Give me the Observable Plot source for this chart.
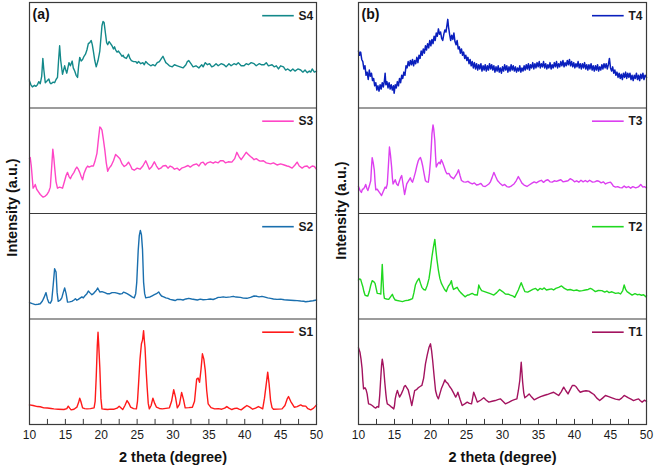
<!DOCTYPE html>
<html><head><meta charset="utf-8">
<script src="https://cdn.jsdelivr.net/npm/d3@7"></script>
<script src="https://cdn.jsdelivr.net/npm/@observablehq/plot@0.6"></script>
<style>
body{margin:0;background:#fff;font-family:"Liberation Sans",Arial,sans-serif}
#wrap{display:flex;width:654px;height:467px;overflow:hidden}
</style></head><body><div id="wrap"></div>
<script>
// Flat lists: 2θ, intensity (0–100 within each stacked sub-panel)
const S4 = [10,25.6,10.2,22,10.4,20,10.7,21.5,10.9,20.5,11.1,22,11.3,25,11.5,23,11.7,30,11.86,47,12.0,36,12.2,24,12.5,26,12.7,27.5,12.85,24,13.0,23,13.3,24.5,13.5,24,13.7,27,13.9,29,14.05,45,14.2,59,14.35,45,14.6,32,14.9,40,15.05,36,15.2,33,15.5,43,15.7,40,15.95,44.5,16.1,38,16.3,35,16.5,31,16.7,29,16.85,40,17.0,48,17.2,44.5,17.4,46,17.6,49,17.8,51,18.0,55,18.2,61,18.4,62,18.6,64,18.75,60,18.9,54,19.1,45,19.3,39,19.55,45,19.8,54,19.95,66,20.1,78,20.25,82,20.4,81,20.6,70,20.75,62,20.9,60,21.1,63,21.3,61,21.5,59,21.7,56,21.85,58,22.0,55,22.2,53,22.4,54,22.7,51,22.9,49,23.05,50,23.2,48,23.5,47,23.8,51,24.0,47,24.2,45,24.5,44,24.8,44,25.0,42.5,25.2,44,25.5,42,25.8,43,26.0,41,26.2,44,26.5,42,26.9,40,27.2,41,27.5,40,27.8,43,28.1,44,28.4,47,28.6,49,28.8,46,29.0,43,29.2,42,29.5,40,29.9,39,30.2,41,30.6,40,31.0,39,31.4,38,31.8,41,32.0,44,32.2,45,32.5,42,32.8,39,33.2,40,33.6,38,34.0,41,34.2,39,34.5,43,34.8,41,35.1,42,35.4,39,35.7,40,36.0,42,36.3,40,36.7,42,37.1,41,37.4,39,37.8,42,38.1,40,38.5,42,38.8,41,39.1,43,39.5,40,39.9,40,40.2,42,40.5,41,40.9,43,41.3,42,41.6,40,42.0,42,42.3,41,42.7,41,43.0,43,43.3,40,43.8,41,44.1,39,44.4,40,44.7,37,45.0,40,45.4,39,45.7,36,46.0,37,46.4,35,46.7,37,47.0,35,47.4,37,47.8,36,48.1,34,48.4,36,48.7,33.5,49.0,35,49.2,34,49.4,37,49.7,34,50,35];
const S3 = [10,52,10.1,53,10.25,45,10.5,24,10.7,26,10.8,27.5,11.0,23,11.2,21,11.5,18,11.9,15.5,12.2,16.5,12.4,17.7,12.7,21,12.9,25,13.1,45,13.25,61,13.4,52,13.5,44,13.7,30,13.9,24,14.2,25,14.6,24,14.9,31,15.1,36,15.3,39,15.5,35,15.7,33,15.9,36,16.2,39,16.4,42,16.6,44,16.8,42,17.0,39,17.2,35,17.4,32,17.6,38,17.9,43,18.1,45,18.3,44,18.6,45,18.9,45,19.1,49,19.4,57,19.6,70,19.8,82,19.95,81,20.1,79,20.3,70,20.5,60,20.7,48,20.9,40,21.1,43,21.4,45.5,21.7,50,22.0,56,22.3,54,22.6,52,22.9,47,23.2,44.5,23.5,46,23.8,48.7,24.1,45,24.3,42,24.6,41,25.0,43,25.4,42,25.8,45,26.2,50,26.4,47,26.7,42,27.0,44,27.4,49,27.7,45,28.0,42,28.3,43,28.6,45,29.0,45.5,29.3,43,29.6,45,29.9,44,30.2,42,30.6,43,30.9,41,31.2,43,31.6,44,32.1,45.5,32.4,44,32.8,46,33.3,47,33.6,45,33.9,48,34.2,48.7,34.5,46,34.8,48,35.2,49,35.6,47.7,35.9,49,36.3,48,36.6,50,37.0,50,37.3,48,37.7,49,38.2,48.7,38.6,52,38.9,58,39.2,54,39.5,51,39.8,54,40.2,58,40.5,56,40.8,54,41.0,53,41.3,51,41.6,52,42.0,50,42.2,49.6,42.6,50,43.0,48,43.6,47,44.0,48,44.5,46,45.0,47,45.5,46,45.9,45,46.2,44.5,46.6,43,47.0,46,47.3,48.7,47.6,45,48.0,43,48.3,44.5,48.7,45,49.0,43,49.4,45,49.7,44.5,50,42];
const S2 = [10,15.5,10.4,14.5,10.8,13.6,11.2,14,11.5,14.5,11.8,17,12.0,20,12.3,25,12.5,19,12.7,15.5,12.9,15,13.1,17.7,13.3,32,13.5,47.7,13.7,44.5,13.85,25,14.0,16.7,14.3,18,14.5,20,14.7,25,14.9,29.4,15.1,24,15.3,16,15.6,16.2,15.9,16.7,16.2,18,16.4,19.3,16.6,17.8,16.8,18.6,17.1,20,17.3,20.9,17.5,20,17.7,21.8,18.0,24,18.2,26.5,18.4,25,18.7,23,18.9,24,19.1,25.6,19.3,27,19.5,29.4,19.8,25.6,20.1,26,20.5,25,20.8,24,21.2,24,21.5,25,21.9,25,22.2,24.5,22.6,23.7,22.9,24,23.1,25.5,23.3,25,23.6,24,24.0,22.4,24.3,21,24.6,20,24.8,24,24.95,35,25.15,65,25.3,79,25.45,84,25.6,80,25.75,66,25.9,35,26.05,24,26.2,20,26.5,20.5,26.8,20.9,27.1,22,27.4,23,27.7,24,28.0,25.6,28.2,23.5,28.4,21.8,28.7,21,29.0,20,29.3,19.6,29.6,18.6,30.0,18,30.3,17.5,30.6,18.5,31.0,18.6,31.4,18,31.8,19,32.2,19.6,32.6,19,33.0,18.5,33.4,18,33.8,18.8,34.2,18.2,34.8,18.6,35.2,19,35.6,18.5,36.0,19.5,36.3,20.5,36.6,20.5,37.0,21,37.4,20.5,38.0,21,38.4,21.5,38.8,20.8,39.4,20.5,39.8,19.8,40.3,19.6,40.8,20.5,41.3,21.8,41.7,21.5,42.0,21,42.4,21.5,42.7,21,43.2,20,43.6,19.6,44.0,19,44.5,18.6,45.0,18.8,45.5,18.2,45.9,18,46.4,17.8,46.9,17.6,47.3,17.4,47.8,17,48.2,16.8,48.5,16.4,49.0,16.8,49.5,17.3,50,18];
const S1 = [10,18.6,10.5,18,11.1,17,11.5,16.8,12.0,15.8,12.5,15.6,13.0,15.2,13.4,14.8,14.0,14.5,14.8,14.2,15.2,15,15.4,17.4,15.6,15.5,15.8,13.9,16.2,14.5,16.6,16.4,16.85,21,17.0,25,17.15,22,17.4,15.8,17.7,15,18.0,14.8,18.5,15,19.0,15.8,19.15,22,19.3,45,19.45,75,19.55,87.5,19.65,75,19.8,54,19.95,25,20.1,14.8,20.5,14.5,20.9,14.2,21.3,14.6,21.8,14.5,22.2,15.5,22.5,17.4,22.8,15.5,23.0,14.2,23.3,18,23.6,22.7,23.85,20,24.1,16.4,24.5,15,24.9,14.8,25.05,22,25.2,38.5,25.4,62,25.6,76.5,25.75,80,25.8,82.8,25.9,89,26.0,80,26.1,73,26.25,52,26.4,35,26.55,20,26.7,14.8,26.95,18,27.2,25,27.45,20,27.7,16.4,28.1,15.2,28.5,14.8,29.0,15.3,29.5,15.8,29.8,22,30.1,33,30.35,26,30.6,15.8,30.9,19,31.2,30.3,31.45,24,31.7,15.8,32.2,16,32.7,16.4,33.0,22,33.3,43,33.5,44,33.7,40,33.9,52,34.1,67,34.3,62,34.5,51,34.7,32,34.9,19.6,35.3,16,35.8,14.8,36.3,15,36.8,14.5,37.2,15.5,37.5,17,37.8,15.5,38.2,14.2,38.6,15.2,38.9,15.5,39.2,14.5,39.5,13.9,39.9,16,40.3,18,40.7,16.5,41.1,14.5,41.5,15.5,41.9,17,42.2,16,42.5,14.8,42.75,25,43.0,38.5,43.2,49.6,43.4,38,43.6,22.7,43.8,16,44.0,14.5,44.6,14.6,45.2,14.8,45.6,18,45.9,24,46.1,26.5,46.4,22,46.9,16.4,47.3,17,47.8,18.6,48.1,17.5,48.5,17.4,48.8,15,49.2,13.9,49.6,15.5,50,18.6];
const T4 = [10.0,54,10.15,50,10.3,53,10.45,46,10.6,44,10.75,37,10.9,40,11.05,31,11.2,34,11.35,27,11.5,36,11.65,30,11.8,33,11.95,26,12.1,28,12.25,21,12.4,24,12.55,17,12.7,21,12.85,16,13.0,22,13.15,18,13.3,24,13.45,20,13.6,26,13.7,33,13.8,22,13.95,25,14.1,19,14.25,24,14.4,18,14.55,22,14.7,17,14.85,21,14.95,14,15.1,22,15.25,19,15.4,25,15.55,21,15.7,28,15.85,24,16.0,31,16.15,28,16.3,34,16.45,31,16.6,40,16.75,38,16.9,44,17.05,40,17.2,45,17.35,41,17.5,46,17.65,40,17.8,45,17.95,42,18.1,48,18.25,43,18.4,50,18.55,47,18.7,54,18.85,50,19.0,56,19.15,52,19.3,59,19.45,55,19.6,61,19.75,57,19.9,64,20.05,59,20.2,65,20.35,61,20.5,68,20.65,64,20.8,71,20.95,68,21.1,75,21.25,70,21.4,72,21.55,66,21.7,64,21.85,70,22.0,74,22.15,72,22.3,79,22.4,84,22.5,77,22.65,70,22.8,64,22.95,69,23.1,65,23.25,71,23.4,63,23.55,60,23.7,64,23.85,56,24.0,58,24.15,52,24.3,56,24.45,50,24.6,53,24.75,47,24.9,50,25.05,45,25.2,48,25.35,42,25.5,46,25.65,40,25.8,44,25.95,38,26.1,43,26.25,37,26.4,42,26.55,36,26.7,41,26.85,37,27.0,42,27.15,35,27.3,40,27.45,36,27.6,41,27.75,35,27.9,40,28.05,36,28.2,42,28.35,37,28.5,41,28.65,36,28.8,40,28.95,34,29.1,39,29.25,35,29.4,40,29.55,34,29.7,38,29.85,33,30.0,39,30.15,35,30.3,41,30.45,36,30.6,40,30.75,34,30.9,39,31.05,35,31.2,41,31.35,36,31.5,40,31.65,35,31.8,39,31.95,34,32.1,38,32.25,35,32.4,40,32.55,34,32.7,38,32.85,35,33.0,40,33.15,36,33.3,41,33.45,37,33.6,42,33.75,36,33.9,41,34.05,38,34.2,43,34.35,37,34.5,42,34.65,38,34.8,43,34.95,39,35.1,44,35.25,38,35.4,42,35.55,39,35.7,44,35.85,38,36.0,42,36.15,37,36.3,41,36.45,38,36.6,43,36.75,37,36.9,41,37.05,38,37.2,43,37.35,39,37.5,44,37.65,38,37.8,42,37.95,39,38.1,44,38.25,40,38.4,45,38.55,39,38.7,43,38.85,40,39.0,45,39.15,41,39.3,46,39.45,40,39.6,44,39.75,39,39.9,43,40.05,38,40.2,42,40.35,39,40.5,44,40.65,38,40.8,42,40.95,37,41.1,42,41.25,38,41.4,43,41.55,37,41.7,41,41.85,36,42.0,41,42.15,37,42.3,42,42.45,36,42.6,40,42.75,35,42.9,40,43.05,36,43.2,41,43.35,35,43.5,39,43.65,36,43.8,41,43.95,37,44.1,42,44.25,38,44.4,42,44.55,37,44.7,41,44.85,47,45.0,38,45.15,35,45.3,39,45.45,33,45.6,36,45.75,31,45.9,34,46.05,29,46.2,33,46.35,28,46.5,32,46.65,27,46.8,33,46.95,29,47.1,34,47.25,28,47.4,33,47.55,29,47.7,33,47.85,27,48.0,31,48.15,26,48.3,31,48.45,28,48.6,33,48.75,27,48.9,31,49.05,26,49.2,32,49.35,28,49.5,33,49.65,27,49.8,31,50.0,29];
const T3 = [10,25.6,10.2,22,10.4,20,10.55,23,10.7,23.4,10.85,25,11.0,27.5,11.15,24,11.3,21.8,11.5,26,11.7,31,11.8,43,11.9,53,12.05,48,12.2,40.8,12.3,30,12.4,22.4,12.6,23,12.8,21,13.0,19,13.2,17,13.45,21,13.7,25,13.85,24,14.0,28,14.15,45,14.3,63,14.45,55,14.6,44,14.7,34,14.8,28,14.95,30,15.1,32,15.3,28,15.5,26.5,15.6,29,15.7,31,15.85,34,16.0,36,16.2,27,16.4,18,16.55,23,16.7,28,16.95,31,17.2,33.8,17.35,31,17.5,29.7,17.7,34,17.9,39,18.1,45,18.3,50,18.45,52,18.6,53,18.75,50,18.9,45.5,19.1,38,19.3,31,19.5,30,19.7,29.7,19.85,38,20.0,50,20.1,62,20.2,75.5,20.35,84,20.45,80,20.6,69,20.7,55,20.8,44,21.0,47,21.2,48.7,21.35,47,21.5,51,21.7,48,21.9,44,22.1,40,22.3,37.6,22.55,38,22.8,35,23.0,34,23.2,32.9,23.4,35,23.6,37,23.75,39,23.9,41.4,24.1,36,24.3,31.3,24.6,30,24.9,29.7,25.2,30.5,25.5,29,25.8,28,26.1,29,26.4,27,26.7,27.5,27.0,28.5,27.3,26,27.6,25.6,27.9,27,28.1,28,28.3,29.7,28.55,34,28.8,39,29.05,35,29.3,31.3,29.6,29,30.0,26.5,30.3,27.5,30.6,25.5,30.9,25,31.2,26,31.4,27,31.6,28,31.9,31,32.2,35,32.45,32,32.7,28.8,33.0,27,33.4,25.6,33.7,27,34.1,28.8,34.4,30,34.7,29,35.1,30.6,35.4,31.5,35.7,29.5,36.0,31.3,36.3,32,36.6,30,36.9,29.7,37.2,31,37.5,30.5,37.8,31.3,38.1,32,38.4,30,38.8,30.6,39.1,31,39.4,33,39.7,31.9,40.0,30,40.3,31,40.6,29.7,40.9,31.5,41.2,30,41.5,31.3,41.8,30,42.1,31.5,42.5,29.7,42.8,30,43.1,31,43.4,30.6,43.7,29,44.0,30,44.3,28,44.6,29,45.0,29.7,45.2,28,45.4,26,45.7,25,46.0,25.5,46.3,24.5,46.6,24.3,46.9,26,47.2,24.5,47.5,25.6,47.8,24,48.1,25.5,48.5,24.3,48.8,25,49.0,26,49.2,27.5,49.5,25,49.7,25.5,50,24.3];
const T2 = [10,37,10.15,38,10.3,37.6,10.45,34,10.6,30.6,10.75,26,10.9,22.7,11.1,22,11.3,21.8,11.5,26,11.7,32,11.9,36.3,12.1,35.5,12.3,33.8,12.45,29,12.6,24.3,12.9,24,13.1,23.7,13.2,38,13.3,51.8,13.4,37,13.5,24,13.6,19.6,13.9,19,14.2,18.6,14.45,21,14.7,23.4,14.9,20,15.1,18,15.4,17.5,15.8,17,16.1,16.5,16.5,17.4,16.9,17.8,17.2,18.5,17.5,19.3,17.7,25,17.9,32.2,18.15,36,18.4,38.5,18.6,34,18.8,30,19.05,28,19.3,27.5,19.55,32,19.8,38.5,20.0,48,20.2,59,20.4,68,20.6,75.5,20.75,65,20.9,56,21.1,46,21.3,38.5,21.5,34,21.7,31.3,21.95,28,22.2,26,22.35,29,22.5,31.3,22.7,33,22.9,36.3,23.05,31,23.2,28,23.45,29,23.7,30,23.95,27,24.2,25,24.5,23,24.8,21,25.1,22.5,25.4,23,25.8,24.3,26.1,23,26.5,22.7,26.6,27,26.7,32.2,26.9,29,27.1,26.9,27.5,26,27.9,25,28.3,24,28.8,22.7,29.2,25,29.6,28,30.0,26,30.4,23.7,30.8,23.5,31.1,22.7,31.4,22,31.7,20.5,31.95,24,32.2,27.5,32.4,31,32.6,34.4,32.85,30,33.1,26,33.5,25.5,33.9,26.9,34.2,28,34.6,29,34.9,27,35.2,29,35.5,28,35.8,29.5,36.1,27.5,36.4,28,36.8,28.5,37.1,27.5,37.4,29,37.8,30,38.2,31.3,38.6,29,39.0,27.5,39.4,28,39.9,26.9,40.3,27.5,40.7,26.5,41.1,26.9,41.5,27.5,41.9,28,42.2,29,42.5,28,42.9,26,43.3,27,43.8,26.9,44.2,25.5,44.5,26.5,44.8,25,45.2,25.8,45.7,24.3,46.1,24.8,46.4,23.7,46.7,27,46.9,32.2,47.1,28,47.3,26,47.7,24,48.0,22.7,48.4,24,48.7,23,49.0,23.4,49.3,22.5,49.6,23,49.9,21,50,22];
const T1 = [10,72.7,10.2,68.6,10.35,62,10.5,52.8,10.6,42,10.7,33.8,10.9,34.8,11.05,33,11.2,29,11.3,24,11.4,19.6,11.65,19,11.9,18,12.15,16.5,12.4,15.5,12.6,17,12.8,16.4,12.95,28,13.1,44.9,13.2,56,13.3,62,13.4,58,13.5,52.8,13.65,40,13.8,29,13.9,23,14.0,19.6,14.25,18.5,14.5,17,14.7,16,14.9,14.8,15.0,18,15.1,24.3,15.25,29,15.4,32.2,15.55,29,15.7,26,15.95,29,16.2,32.9,16.35,36,16.5,37,16.7,35,16.9,32.9,17.15,26,17.4,18,17.6,25,17.8,32.2,18.05,33,18.3,34.8,18.55,36,18.8,37,19.05,44,19.3,57.5,19.55,66,19.8,73.3,20.0,76.5,20.15,70,20.3,60.7,20.5,46,20.7,32.2,20.9,27,21.1,24.3,21.3,29,21.5,33.8,21.75,38,22.0,42.3,22.2,40,22.4,39,22.65,36,22.9,33.8,23.2,30,23.5,26,23.65,28,23.8,30.6,24.1,24,24.4,18,24.75,19.5,25.1,21.2,25.4,20,25.7,19.6,25.85,25,26.0,30.6,26.25,26,26.5,21.2,26.95,23,27.4,25.3,27.75,23,28.1,21.2,28.55,22,29.0,22.7,29.35,23.5,29.7,24.3,30.05,22,30.4,19.6,30.85,21,31.3,22.7,31.65,23.5,32.0,24.3,32.2,32,32.4,41.7,32.6,59,32.8,40,32.95,30,33.1,25.3,33.4,27,33.7,29,34.05,26,34.4,23.4,34.85,25,35.3,26.5,35.75,27.5,36.2,28.4,36.65,29.5,37.1,30.6,37.45,29,37.8,27.5,38.15,31,38.5,35.4,38.8,32,39.1,29,39.4,33,39.7,37,39.95,37,40.2,36,40.5,33,40.8,30.6,41.2,31.5,41.6,32,42.0,31.6,42.35,30,42.7,28.4,43.1,25,43.5,22.7,43.9,25,44.3,27.5,44.75,26.5,45.2,25.3,45.7,24,46.2,23.4,46.55,25,46.9,27.5,47.2,26.5,47.5,25.3,47.85,24,48.2,22.7,48.55,23.5,48.9,24.3,49.15,22.5,49.4,21.2,49.7,23,50,22];

const namesA = ["S4", "S3", "S2", "S1"];
const colorsA = ["#13898a", "#ff46c6", "#1a6fae", "#ff1a1a"];
const namesB = ["T4", "T3", "T2", "T1"];
const colorsB = ["#0a1fbd", "#dc3ff0", "#20d820", "#a3135f"];
const xTickLabels = [10, 15, 20, 25, 30, 35, 40, 45, 50];
const xMinorTicks = [10, 12.5, 15, 17.5, 20, 22.5, 25, 27.5, 30, 32.5, 35, 37.5, 40, 42.5, 45, 47.5, 50];
const xTitle = "2 theta (degree)";
const yTitle = "Intensity (a.u.)";

function pairs(flat) {
  const out = [];
  for (let i = 0; i < flat.length; i += 2) out.push({x: flat[i], y: flat[i + 1]});
  return out;
}

function panel(names, arrays, colors, tag, ml, mr, ylabDy) {
  const ink = "#3a3a3a";
  const marks = [];
  names.forEach((name, i) => {
    const off = (names.length - 1 - i) * 100;
    marks.push(Plot.line(pairs(arrays[i]), {x: "x", y: d => d.y + off, stroke: colors[i], strokeWidth: name === "T4" ? 1.5 : 1.4}));
    marks.push(Plot.ruleY([off + 87.5], {x1: 42.5, x2: 46.9, stroke: colors[i], strokeWidth: 1.6}));
    marks.push(Plot.text([name], {x: 47.5, y: off + 87.5, text: d => d, textAnchor: "start", fontWeight: "bold", fontSize: 12, fill: "#1a1a1a"}));
  });
  marks.push(Plot.ruleY([100, 200, 300], {stroke: ink, strokeWidth: 1.2}));
  marks.push(Plot.frame({stroke: ink, strokeWidth: 1.2}));
  marks.push(Plot.ruleX(xMinorTicks, {x: d => d, y1: 0, y2: 4.8, stroke: ink}));
  marks.push(Plot.axisX(xTickLabels, {tickSize: 0, tickPadding: 6, fontSize: 12, label: null, fill: "#1a1a1a"}));
  marks.push(Plot.text([tag], {frameAnchor: "top-left", dx: 3, dy: 12.5, lineAnchor: "middle", text: d => d, textAnchor: "start", fontWeight: "bold", fontSize: 14, fill: "#111"}));
  marks.push(Plot.text([yTitle], {frameAnchor: "left", rotate: -90, dx: -17, dy: ylabDy, textAnchor: "middle", lineAnchor: "middle", text: d => d, fontWeight: "bold", fontSize: 14.5, fill: "#111"}));
  marks.push(Plot.text([xTitle], {frameAnchor: "bottom", dy: 33, lineAnchor: "middle", textAnchor: "middle", text: d => d, fontWeight: "bold", fontSize: 14.5, fill: "#111"}));
  return Plot.plot({
    width: 327, height: 467,
    marginLeft: ml, marginRight: mr, marginTop: 2, marginBottom: 43,
    x: {domain: [10, 50]},
    y: {domain: [0, 400], axis: null},
    style: {fontFamily: "'Liberation Sans', Arial, sans-serif", background: "#fff", overflow: "visible"},
    marks
  });
}

const wrap = document.getElementById("wrap");
wrap.appendChild(panel(namesA, [S4, S3, S2, S1], colorsA, "(a)", 29, 11, -6));
wrap.appendChild(panel(namesB, [T4, T3, T2, T1], colorsB, "(b)", 31, 8, -3));
</script></body></html>
